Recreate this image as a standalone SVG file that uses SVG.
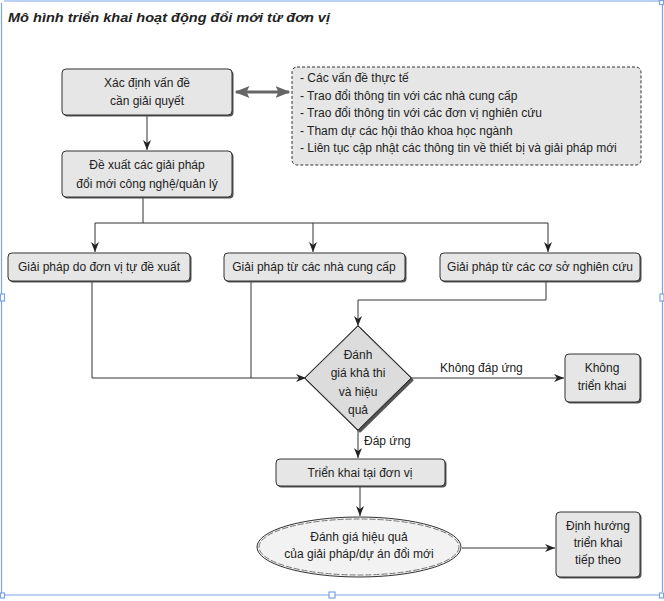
<svg xmlns="http://www.w3.org/2000/svg" width="664" height="601" viewBox="0 0 664 601">
<defs>
<style>
.t{font-family:"Liberation Sans",Arial,sans-serif;font-size:12px;fill:#222;}
.c{text-anchor:middle;}
.box{fill:#e6e6e6;stroke:#333;stroke-width:1;}
.sh{fill:#555;}
.ln{fill:none;stroke:#333;stroke-width:1;}
.sel{fill:none;stroke:#7ba3e8;stroke-width:1.2;}
.hd{fill:#fff;stroke:#7ba3e8;stroke-width:1.2;}
</style>
<marker id="ar" viewBox="0 0 10 8" refX="10" refY="4" markerWidth="10" markerHeight="8" markerUnits="userSpaceOnUse" orient="auto">
<path d="M0,0 L10,4 L0,8 L3,4 z" fill="#222"/>
</marker>
<marker id="ag" viewBox="0 0 10 8" refX="9" refY="4" markerWidth="5" markerHeight="4" orient="auto-start-reverse">
<path d="M0,0 L10,4 L0,8 L2,4 z" fill="#666"/>
</marker>
</defs>
<rect width="664" height="601" fill="#fff"/>
<g id="selection">
<path class="sel" d="M1.5,3 V595 H661 M4,1 H660 M662.5,4 V592"/>
<rect class="hd" x="659.5" y="0.5" width="4" height="4"/>
<rect class="hd" x="0.5" y="593" width="4" height="5"/>
<rect class="hd" x="329" y="592" width="6" height="6"/>
<rect class="hd" x="660" y="294" width="4" height="7"/>
<rect class="hd" x="0.5" y="294" width="4" height="7"/>
<rect class="hd" x="659.5" y="593" width="4" height="5"/>
</g>
<text id="title" x="8" y="22" class="t" style="font-weight:bold;font-style:italic;font-size:12.5px" textLength="322" lengthAdjust="spacingAndGlyphs">Mô hình triển khai hoạt động đổi mới từ đơn vị</text>
<g id="connectors">
<line x1="147" y1="115" x2="147" y2="150" class="ln" marker-end="url(#ar)"/>
<line x1="236" y1="92" x2="289" y2="92" stroke="#666" stroke-width="3" marker-start="url(#ag)" marker-end="url(#ag)"/>
<path class="ln" d="M143,198 V223"/>
<path class="ln" d="M95,223 H548"/>
<line x1="95" y1="223" x2="95" y2="252" class="ln" marker-end="url(#ar)"/>
<line x1="313" y1="223" x2="313" y2="252" class="ln" marker-end="url(#ar)"/>
<line x1="548" y1="223" x2="548" y2="252" class="ln" marker-end="url(#ar)"/>
<path class="ln" d="M92,281 V378 H306" marker-end="url(#ar)"/>
<path class="ln" d="M251,281 V378"/>
<path class="ln" d="M546,281 V300 H358 V326" marker-end="url(#ar)"/>
<line x1="410" y1="378" x2="564" y2="378" class="ln" marker-end="url(#ar)"/>
<text x="440" y="372" class="t">Không đáp ứng</text>
<line x1="358" y1="429" x2="358" y2="458" class="ln" marker-end="url(#ar)"/>
<text x="364" y="445" class="t">Đáp ứng</text>
<line x1="360" y1="486" x2="360" y2="516" class="ln" marker-end="url(#ar)"/>
<line x1="462" y1="548" x2="555" y2="548" class="ln" marker-end="url(#ar)"/>
</g>
<g id="n1">
<rect class="sh" x="63.5" y="70.5" width="170" height="46" rx="4"/>
<rect class="box" x="62" y="69" width="170" height="46" rx="4"/>
<text x="147" y="87" class="t c">Xác định vấn đề</text>
<text x="147" y="105" class="t c">cần giải quyết</text>
</g>
<g id="n2">
<rect class="box" x="292" y="67" width="349" height="98" rx="5" stroke-dasharray="3,2"/>
<text x="300" y="82" class="t">- Các vấn đề thực tế</text>
<text x="300" y="99.5" class="t">- Trao đổi thông tin với các nhà cung cấp</text>
<text x="300" y="117" class="t">- Trao đổi thông tin với các đơn vị nghiên cứu</text>
<text x="300" y="134.5" class="t">- Tham dự các hội thảo khoa học ngành</text>
<text x="300" y="152" class="t">- Liên tục cập nhật các thông tin về thiết bị và giải pháp mới</text>
</g>
<g id="n3">
<rect class="sh" x="63.5" y="152.5" width="170" height="46" rx="4"/>
<rect class="box" x="62" y="151" width="170" height="46" rx="4"/>
<text x="147" y="169" class="t c">Đề xuất các giải pháp</text>
<text x="147" y="188" class="t c">đổi mới công nghệ/quản lý</text>
</g>
<g id="n4">
<rect class="sh" x="9.5" y="254.5" width="182" height="28" rx="4"/>
<rect class="box" x="8" y="253" width="182" height="28" rx="4"/>
<text x="99" y="271" class="t c">Giải pháp do đơn vị tự đề xuất</text>
</g>
<g id="n5">
<rect class="sh" x="225.5" y="254.5" width="181" height="28" rx="4"/>
<rect class="box" x="224" y="253" width="181" height="28" rx="4"/>
<text x="314" y="271" class="t c">Giải pháp từ các nhà cung cấp</text>
</g>
<g id="n6">
<rect class="sh" x="441.5" y="254.5" width="200" height="28" rx="4"/>
<rect class="box" x="440" y="253" width="200" height="28" rx="4"/>
<text x="540" y="271" class="t c">Giải pháp từ các cơ sở nghiên cứu</text>
</g>
<g id="n7">
<path d="M360,329 L412,380 L360,431 L308,380 Z" fill="#555" stroke="#555" stroke-linejoin="round" stroke-width="3"/>
<path d="M358,327 L410,378 L358,429 L306,378 Z" fill="#dcdcdc" stroke="#333" stroke-linejoin="round" stroke-width="3"/>
<path d="M358,327 L410,378 L358,429 L306,378 Z" fill="#dcdcdc" stroke="#dcdcdc" stroke-linejoin="round" stroke-width="1"/>
<text x="358" y="359" class="t c">Đánh</text>
<text x="358" y="377" class="t c">giá khả thi</text>
<text x="358" y="396" class="t c">và hiệu</text>
<text x="358" y="414" class="t c">quả</text>
</g>
<g id="n8">
<rect class="sh" x="566.5" y="355.5" width="75" height="48" rx="4"/>
<rect class="box" x="565" y="354" width="75" height="48" rx="4"/>
<text x="602" y="372" class="t c">Không</text>
<text x="602" y="390" class="t c">triển khai</text>
</g>
<g id="n9">
<rect class="sh" x="277.5" y="460.5" width="169" height="27" rx="4"/>
<rect class="box" x="276" y="459" width="169" height="27" rx="4"/>
<text x="360" y="477" class="t c">Triển khai tại đơn vị</text>
</g>
<g id="n10">
<ellipse cx="359" cy="547" rx="102" ry="30" fill="#f2f2f2" stroke="#333" stroke-width="1"/>
<ellipse cx="359" cy="547" rx="100" ry="28" fill="none" stroke="#777" stroke-width="1" stroke-dasharray="6,2"/>
<text x="359" y="541" class="t c">Đánh giá hiệu quả</text>
<text x="359" y="558" class="t c">của giải pháp/dự án đổi mới</text>
</g>
<g id="n11">
<rect class="sh" x="557.5" y="513.5" width="84" height="65" rx="4"/>
<rect class="box" x="556" y="512" width="84" height="65" rx="4"/>
<text x="598" y="530" class="t c">Định hướng</text>
<text x="598" y="547" class="t c">triển khai</text>
<text x="598" y="564" class="t c">tiếp theo</text>
</g>
</svg>
